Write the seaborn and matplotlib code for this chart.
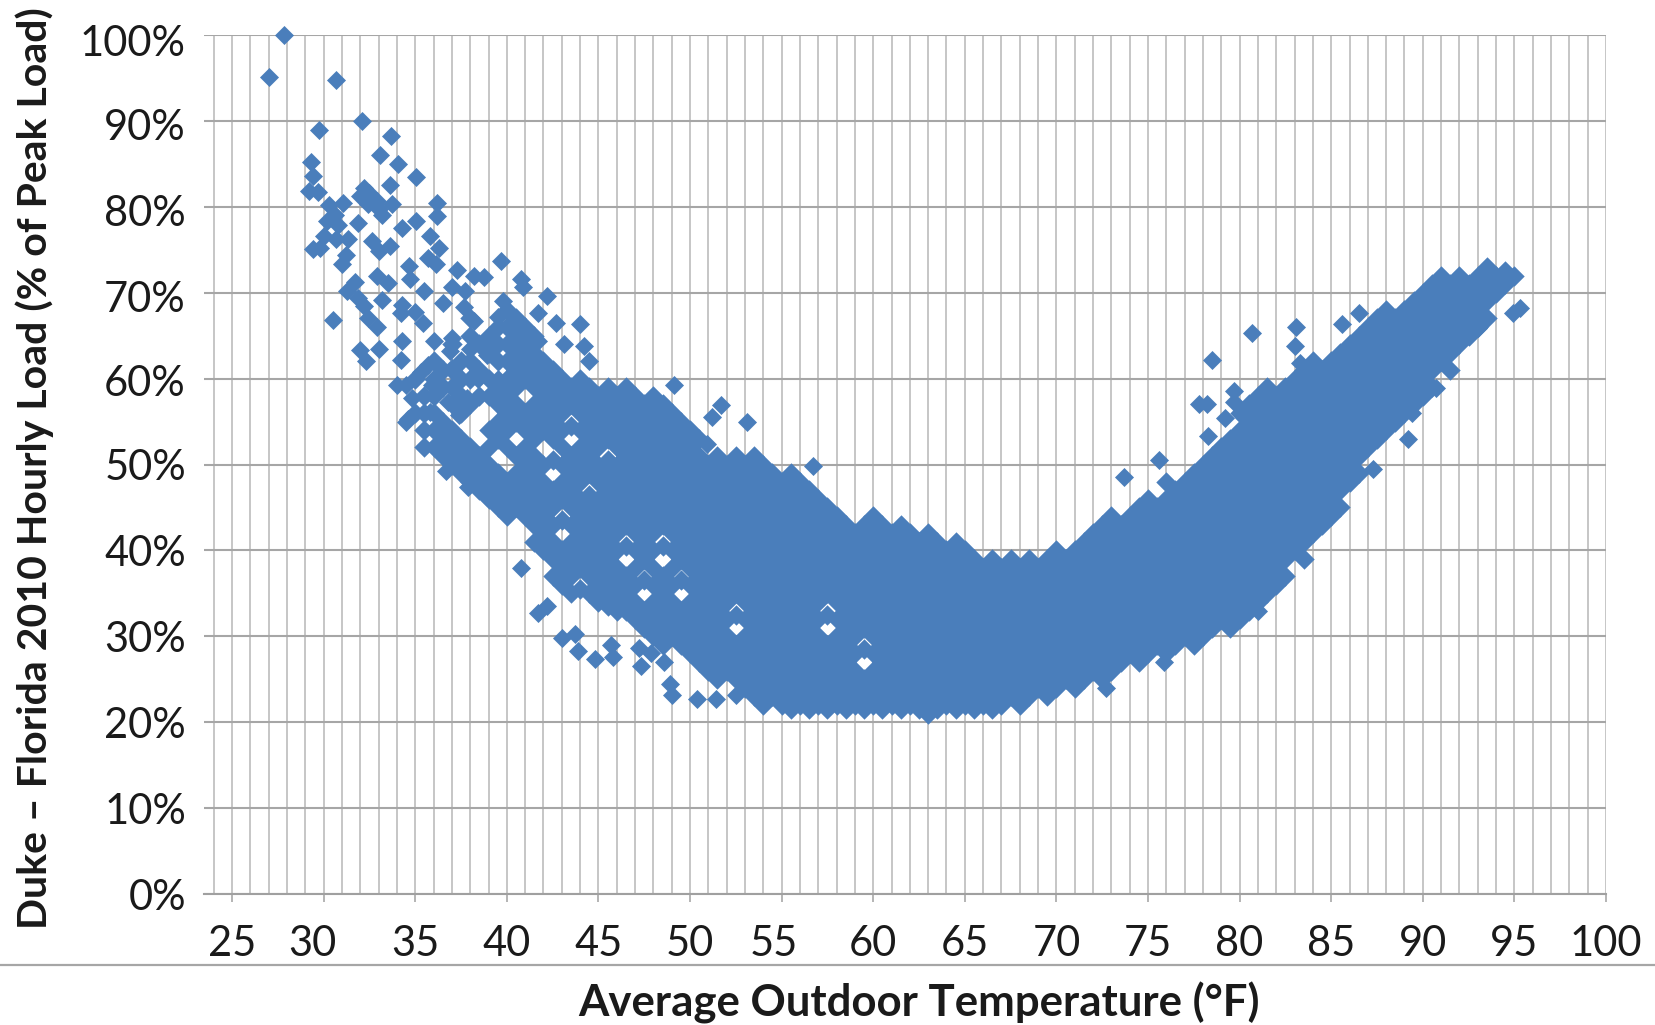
import matplotlib
matplotlib.use("Agg")
import matplotlib.pyplot as plt
import matplotlib.transforms as mtrans
from matplotlib.lines import Line2D
import seaborn as sns

# scattered hours (deg F, % of peak)
sparse_temp = [27.83, 27.04, 30.67, 32.1, 29.75, 33.7, 33.1, 34.05, 29.3, 29.4, 35.05, 33.6, 29.2, 29.7,
               32.2, 32.0, 32.5, 32.9, 32.4, 33.2, 33.75, 33.0, 36.2, 36.2, 30.3, 31.05, 30.6, 30.2, 30.8,
               31.9, 35.05, 34.3, 30.0, 29.4, 29.8, 30.7, 31.35, 32.65, 33.65, 33.0, 35.8, 36.3, 35.7, 36.15,
               31.2, 31.0, 37.3, 38.2, 38.75, 39.7, 40.8, 40.9, 34.65, 32.9, 33.5, 34.7, 35.5, 37.0, 37.7,
               31.7, 31.25, 31.9, 32.2, 33.2, 32.4, 32.9, 30.5, 34.3, 35.0, 34.2, 35.4, 36.5, 37.65,
               34.3, 32.0, 33.0, 32.3, 39.8, 42.2, 39.5, 38.2, 42.7, 44.0, 41.7, 40.9,
               36.0, 37.0, 38.0, 36.9, 40.1, 41.7, 43.1, 44.2, 44.5, 34.2, 38.9, 40.5, 41.6,
               34.0, 35.3, 34.5, 34.8, 35.7, 37.0, 35.9, 38.4, 39.5, 34.5, 36.8, 35.8, 37.8, 37.4, 39.5, 40.5,
               40.8, 41.7, 42.2, 43.0, 43.7, 43.9, 44.8, 45.7, 45.8, 47.2, 47.85, 48.6, 47.3, 48.9, 49.0,
               50.4, 51.4, 52.5, 36.7, 37.9, 38.9, 34.6, 51.7, 51.2, 53.1, 49.1, 50.9, 56.7,
               80.7, 78.5, 83.1, 86.5, 85.6, 83.0, 83.3, 77.8, 78.2, 79.7, 79.7, 79.2, 78.3, 75.6, 73.7,
               87.3, 89.2, 89.4, 95.3, 94.9, 93.0, 90.7, 81.0, 75.9, 72.7]
sparse_load = [100, 95.1, 94.8, 90, 88.9, 88.2, 86, 85, 85.2, 83.6, 83.5, 82.5, 81.8, 81.7,
               82.2, 81.2, 81.6, 80.7, 80.3, 79.1, 80.3, 79.7, 80.4, 78.9, 80.2, 80.4, 79.1, 78.3, 77.9,
               78.1, 78.4, 77.5, 76.6, 75.1, 75.2, 76.2, 76.2, 76, 75.4, 74.8, 76.6, 75.2, 74, 73.3,
               74.4, 73.3, 72.7, 71.9, 71.8, 73.7, 71.6, 70.7, 73.1, 71.9, 71.1, 71.6, 70.2, 70.7, 70.2,
               71.3, 70.2, 69.4, 68.4, 69.2, 67, 66, 66.8, 68.6, 67.8, 67.6, 66.5, 68.8, 68.3,
               64.4, 63.3, 63.5, 62, 69, 69.6, 67.2, 66.7, 66.5, 66.3, 67.6, 65.7,
               64.4, 64.7, 63.5, 63.2, 64, 64.4, 64, 63.8, 62, 62.2, 62.8, 62, 61.6,
               59.3, 60.8, 59.3, 57.7, 61.6, 61.2, 59.3, 60, 60, 55, 57.3, 56.1, 57.7, 55.8, 57.3, 59.3,
               37.9, 32.7, 33.5, 29.8, 30.3, 28.3, 27.3, 29, 27.6, 28.6, 28, 27, 26.5, 24.5, 23.2,
               22.7, 22.7, 23.2, 49.3, 47.4, 46.2, 55.3, 56.9, 55.5, 54.9, 59.2, 52.4, 49.8,
               65.3, 62.2, 66, 67.6, 66.4, 63.8, 61.8, 57, 57, 58.5, 57.3, 55.4, 53.3, 50.5, 48.5,
               49.5, 53, 56, 68.2, 67.6, 65.9, 58.9, 33, 27, 24]

# the solid body of the cloud, one row per half degree of temperature
column_temp = [35.0, 35.5, 36.0, 36.5, 37.0, 37.5, 38.0, 38.5, 39.0, 39.5, 40.0, 40.5, 41.0, 41.5,
               42.0, 42.5, 43.0, 43.5, 44.0, 44.5, 45.0, 45.5, 46.0, 46.5, 47.0, 47.5, 48.0, 48.5,
               49.0, 49.5, 50.0, 50.5, 51.0, 51.5, 52.0, 52.5, 53.0, 53.5, 54.0, 54.5, 55.0, 55.5,
               56.0, 56.5, 57.0, 57.5, 58.0, 58.5, 59.0, 59.5, 60.0, 60.5, 61.0, 61.5, 62.0, 62.5,
               63.0, 63.5, 64.0, 64.5, 65.0, 65.5, 66.0, 66.5, 67.0, 67.5, 68.0, 68.5, 69.0, 69.5,
               70.0, 70.5, 71.0, 71.5, 72.0, 72.5, 73.0, 73.5, 74.0, 74.5, 75.0, 75.5, 76.0, 76.5,
               77.0, 77.5, 78.0, 78.5, 79.0, 79.5, 80.0, 80.5, 81.0, 81.5, 82.0, 82.5, 83.0, 83.5,
               84.0, 84.5, 85.0, 85.5, 86.0, 86.5, 87.0, 87.5, 88.0, 88.5, 89.0, 89.5, 90.0, 90.5,
               91.0, 91.5, 92.0, 92.5, 93.0, 93.5, 94.0, 94.5, 95.0]
column_load = [
    [56, 60],
    [52, 54, 56, 58],
    [52, 54, 56, 58, 60, 62],
    [51, 53, 55, 59, 61],
    [50, 52, 54, 57, 59, 61, 64],
    [49, 51, 53, 56, 58, 60, 62],
    [48, 50, 52, 57, 60, 62, 65, 67],
    [47, 49, 51, 58, 61, 64],
    [46, 48, 50, 52, 54, 58, 60, 63, 65],
    [45, 47, 49, 53, 55, 57, 59, 62, 64, 66],
    [44, 46, 48, 52, 54, 56, 58, 60, 62, 64, 66, 68],
    [45, 47, 49, 51, 55, 57, 59, 61, 63, 65, 67],
    [44, 46, 48, 50, 52, 54, 56, 60, 62, 64, 66],
    [41, 43, 45, 47, 49, 51, 53, 55, 57, 59, 61, 63, 65],
    [40, 42, 44, 46, 48, 50, 54, 56, 58, 60, 62],
    [37, 39, 41, 43, 45, 47, 50.5, 53, 55, 57, 59, 61],
    [36, 38, 40, 43.5, 46, 48, 50, 52, 54, 56, 58, 60],
    [35, 37, 39, 41, 43, 45, 47, 49, 51, 54.5, 57, 59],
    [35.5, 38, 40, 42, 44, 46, 48, 50, 52, 54, 56, 58, 60],
    [35, 37, 39, 41, 43, 45, 46.5, 49, 51, 53, 55, 57, 59],
    [34, 36, 38, 40, 42, 44, 46, 48, 50, 52, 54, 56, 58],
    [33.5, 35, 37, 39, 41, 43, 45, 47, 49, 50.5, 53, 55, 57, 59],
    [33, 34, 36, 38, 40, 42, 44, 46, 48, 50, 52, 54, 56, 58],
    [33, 35, 37, 40.5, 43, 45, 47, 49, 51, 53, 55, 57, 59],
    [32, 34, 36, 38, 40, 42, 44, 46, 48, 50, 52, 54, 56, 58],
    [31, 33, 36.5, 39, 41, 43, 45, 47, 49, 51, 53, 55, 57],
    [30, 32, 34, 36, 38, 40, 42, 44, 46, 48, 50, 52, 54, 56, 58],
    [29, 31, 33, 35, 37, 40.5, 43, 45, 47, 49, 51, 53, 55, 57],
    [30, 32, 34, 36, 38, 40, 42, 44, 46, 48, 50, 52, 54, 56],
    [29, 31, 33, 36.5, 39, 41, 43, 45, 47, 49, 51, 53, 55],
    [28, 30, 32, 34, 36, 38, 40, 42, 44, 46, 48, 50, 52, 54],
    [27, 29, 31, 33, 35, 37, 39, 41, 43, 45, 47, 49, 51, 53],
    [26, 28, 30, 32, 34, 36, 38, 40, 42, 44, 46, 48, 50],
    [25, 27, 29, 31, 33, 35, 37, 39, 41, 43, 45, 47, 49, 51],
    [26, 28, 30, 32, 34, 36, 38, 40, 42, 44, 46, 48, 50],
    [25, 27, 29, 32.5, 35, 37, 39, 41, 43, 45, 47, 49, 51],
    [24, 26, 28, 30, 32, 34, 36, 38, 40, 42, 44, 46, 48, 50],
    [23, 25, 27, 29, 31, 33, 35, 37, 39, 41, 43, 45, 47, 49, 51],
    [22, 24, 26, 28, 30, 32, 34, 36, 38, 40, 42, 44, 46, 48, 50],
    [23, 25, 27, 29, 31, 33, 35, 37, 39, 41, 43, 45, 47, 49],
    [22, 24, 26, 28, 30, 32, 34, 36, 38, 40, 42, 44, 46, 48],
    [21.5, 23, 25, 27, 29, 31, 33, 35, 37, 39, 41, 43, 45, 47, 49],
    [22, 24, 26, 28, 30, 32, 34, 36, 38, 40, 42, 44, 46, 48],
    [21.5, 23, 25, 27, 29, 31, 33, 35, 37, 39, 41, 43, 45, 47],
    [22, 24, 26, 28, 30, 32, 34, 36, 38, 40, 42, 44, 46],
    [21.5, 23, 25, 27, 29, 32.5, 35, 37, 39, 41, 43, 45],
    [22, 24, 26, 28, 30, 32, 34, 36, 38, 40, 42, 44],
    [21.5, 23, 25, 27, 29, 31, 33, 35, 37, 39, 41, 43],
    [22, 24, 26, 28, 30, 32, 34, 36, 38, 40, 42],
    [21.5, 23, 25, 28.5, 31, 33, 35, 37, 39, 41, 43],
    [22, 24, 26, 28, 30, 32, 34, 36, 38, 40, 42, 44],
    [21.5, 23, 25, 27, 29, 31, 33, 35, 37, 39, 41, 43],
    [22, 24, 26, 28, 30, 32, 34, 36, 38, 40, 42],
    [21.5, 23, 25, 27, 29, 31, 33, 35, 37, 39, 41, 43],
    [22, 24, 26, 28, 30, 32, 34, 36, 38, 40, 42],
    [21.5, 23, 25, 27, 29, 31, 33, 35, 37, 39, 41],
    [21, 22, 24, 26, 28, 30, 32, 34, 36, 38, 40, 42],
    [21.5, 23, 25, 27, 29, 31, 33, 35, 37, 39, 41],
    [22, 24, 26, 28, 30, 32, 34, 36, 38, 40],
    [21.5, 23, 25, 27, 29, 31, 33, 35, 37, 39, 41],
    [22, 24, 26, 28, 30, 32, 34, 36, 38, 40],
    [21.5, 23, 25, 27, 29, 31, 33, 35, 37, 39],
    [22, 24, 26, 28, 30, 32, 34, 36, 38],
    [21.5, 23, 25, 27, 29, 31, 33, 35, 37, 39],
    [22, 24, 26, 28, 30, 32, 34, 36, 38],
    [23, 25, 27, 29, 31, 33, 35, 37, 39],
    [22, 24, 26, 28, 30, 32, 34, 36, 38],
    [23, 25, 27, 29, 31, 33, 35, 37, 39],
    [24, 26, 28, 30, 32, 34, 36, 38],
    [23, 25, 27, 29, 31, 33, 35, 37, 39],
    [24, 26, 28, 30, 32, 34, 36, 38, 40],
    [25, 27, 29, 31, 33, 35, 37, 39],
    [24, 26, 28, 30, 32, 34, 36, 38, 40],
    [25, 27, 29, 31, 33, 35, 37, 39, 41],
    [26, 28, 30, 32, 34, 36, 38, 40, 42],
    [25, 27, 29, 31, 33, 35, 37, 39, 41, 43],
    [26, 28, 30, 32, 34, 36, 38, 40, 42, 44],
    [27, 29, 31, 33, 35, 37, 39, 41, 43],
    [28, 30, 32, 34, 36, 38, 40, 42, 44],
    [27, 29, 31, 33, 35, 37, 39, 41, 43, 45],
    [28, 30, 32, 34, 36, 38, 40, 42, 44, 46],
    [29, 31, 33, 35, 37, 39, 41, 43, 45],
    [28, 30, 32, 34, 36, 38, 40, 42, 44, 46, 48],
    [29, 31, 33, 35, 37, 39, 41, 43, 45, 47],
    [30, 32, 34, 36, 38, 40, 42, 44, 46, 48],
    [29, 31, 33, 35, 37, 39, 41, 43, 45, 47, 49],
    [30, 32, 34, 36, 38, 40, 42, 44, 46, 48, 50],
    [31, 33, 35, 37, 39, 41, 43, 45, 47, 49, 51],
    [32, 34, 36, 38, 40, 42, 44, 46, 48, 50, 52],
    [31, 33, 35, 37, 39, 41, 43, 45, 47, 49, 51, 53],
    [32, 34, 36, 38, 40, 42, 44, 46, 48, 50, 52, 54, 56],
    [33, 35, 37, 39, 41, 43, 45, 47, 49, 51, 53, 55, 57],
    [34, 36, 38, 40, 42, 44, 46, 48, 50, 52, 54, 56, 58],
    [35, 37, 39, 41, 43, 45, 47, 49, 51, 53, 55, 57, 59],
    [36, 38, 40, 42, 44, 46, 48, 50, 52, 54, 56, 58],
    [37, 39, 41, 43, 45, 47, 49, 51, 53, 55, 57, 59],
    [40, 42, 44, 46, 48, 50, 52, 54, 56, 58, 60],
    [39, 41, 43, 45, 47, 49, 51, 53, 55, 57, 59, 61],
    [42, 44, 46, 48, 50, 52, 54, 56, 58, 60, 62],
    [43, 45, 47, 49, 51, 53, 55, 57, 59, 61],
    [44, 46, 48, 50, 52, 54, 56, 58, 60, 62],
    [45, 47, 49, 51, 53, 55, 57, 59, 61, 63],
    [48, 50, 52, 54, 56, 58, 60, 62, 64],
    [49, 51, 53, 55, 57, 59, 61, 63, 65],
    [52, 54, 56, 58, 60, 62, 64, 66],
    [53, 55, 57, 59, 61, 63, 65, 67],
    [54, 56, 58, 60, 62, 64, 66, 68],
    [55, 57, 59, 61, 63, 65, 67],
    [56, 58, 60, 62, 64, 66, 68],
    [57, 59, 61, 63, 65, 67, 69],
    [58, 60, 62, 64, 66, 68, 70],
    [59, 61, 63, 65, 67, 69, 71],
    [62, 64, 66, 68, 70, 72],
    [61, 63, 65, 67, 69, 71],
    [64, 66, 68, 70, 72],
    [65, 67, 69, 71],
    [66, 68, 70, 72],
    [67, 69, 71, 73],
    [70, 72],
    [71, 72.5],
    [72],
]

x_ticks = [25, 30, 35, 40, 45, 50, 55, 60, 65, 70, 75, 80, 85, 90, 95, 100]
x_minor = [24, 26, 27, 28, 29, 31, 32, 33, 34, 36, 37, 38, 39, 41, 42, 43, 44, 46, 47, 48, 49, 51, 52, 53, 54,
           56, 57, 58, 59, 61, 62, 63, 64, 66, 67, 68, 69, 71, 72, 73, 74, 76, 77, 78, 79, 81, 82, 83, 84,
           86, 87, 88, 89, 91, 92, 93, 94, 96, 97, 98, 99]
y_ticks = [0, 10, 20, 30, 40, 50, 60, 70, 80, 90, 100]
y_labels = ["0%", "10%", "20%", "30%", "40%", "50%", "60%", "70%", "80%", "90%", "100%"]

W, H = 1656, 1025
BLUE = "#4a7ebb"

sns.set_theme(style="white")
plt.rcParams['font.family'] = ['Lato', 'DejaVu Sans']

fig = plt.figure(figsize=(W / 100, H / 100), dpi=100)
ax = fig.add_axes([204 / W, 1 - 894 / H, 1402 / W, 859 / H])

body_x = [t for t, col in zip(column_temp, column_load) for _ in col]
body_y = [v for col in column_load for v in col]
sns.scatterplot(x=body_x, y=body_y, marker="D", s=108, color=BLUE, linewidth=0, ax=ax, clip_on=False)
sns.scatterplot(x=sparse_temp, y=sparse_load, marker="D", s=94, color=BLUE, linewidth=0, ax=ax, clip_on=False)

ax.set_xlim(23.47, 100)
ax.set_ylim(0, 100)
ax.set_xticks(x_ticks)
ax.set_xticks(x_minor, minor=True)
ax.set_yticks(y_ticks)
ax.set_yticklabels(y_labels)

ax.set_axisbelow(True)
ax.grid(True, axis="x", which="both", color="#bcbcbc", lw=1.2)
ax.grid(True, axis="y", which="major", color="#a6a6a6", lw=1.5)
for side in ["left", "top", "right"]:
    ax.spines[side].set_visible(False)
ax.spines["bottom"].set_color("#a0a0a0")
ax.spines["bottom"].set_linewidth(1.5)

ax.tick_params(axis="x", which="major", length=6, width=1.1, color="#a0a0a0", bottom=True,
               labelsize=30, labelcolor="#1a1a1a", pad=16)
ax.tick_params(axis="x", which="minor", length=0)
ax.tick_params(axis="y", length=0, labelsize=30, labelcolor="#1a1a1a", pad=13)

# the reference has a couple of x labels sitting off their ticks, and upper y labels a bit low
x_shift = {"30": -11, "55": -8}
y_shift = {"60%": -2, "70%": -4, "80%": -4, "90%": -4, "100%": -6}
for lab in ax.get_xticklabels():
    dx = x_shift.get(lab.get_text(), 0)
    lab.set_transform(lab.get_transform() + mtrans.ScaledTranslation(dx / 100, 0, fig.dpi_scale_trans))
for lab in ax.get_yticklabels():
    dy = y_shift.get(lab.get_text(), 0)
    lab.set_transform(lab.get_transform() + mtrans.ScaledTranslation(0, dy / 100, fig.dpi_scale_trans))

fig.add_artist(Line2D([0, 1], [1 - 965 / H, 1 - 965 / H], color="#a6a6a6", lw=1.6))

fig.text(35 / W, 1 - 468 / H, "Duke – Florida 2010 Hourly Load (% of Peak Load)", rotation=90,
         ha="center", va="center", fontsize=29.5, fontweight="bold", color="#1a1a1a")
fig.text(919 / W, 1 - 1003 / H, "Average Outdoor Temperature (°F)",
         ha="center", va="center", fontsize=31.5, fontweight="bold", color="#1a1a1a")

fig.savefig("out.png", dpi=100)
